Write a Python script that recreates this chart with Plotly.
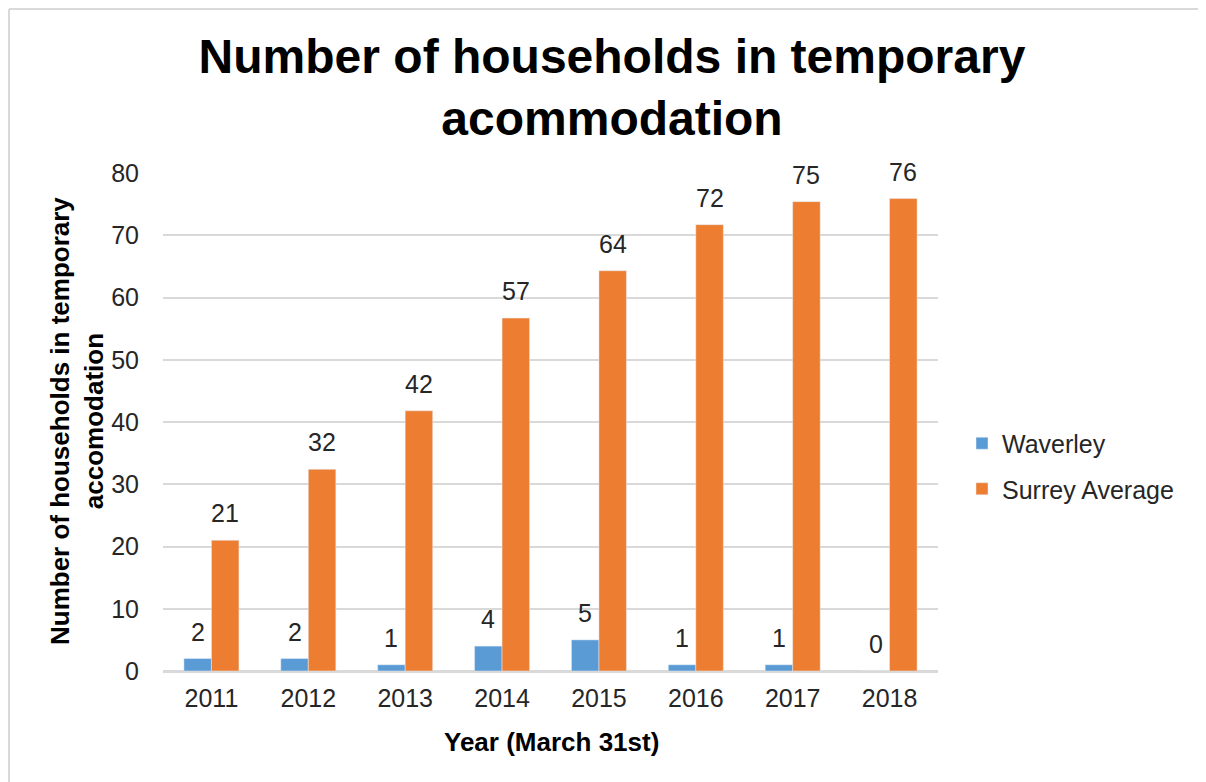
import plotly.graph_objects as go

years = ["2011", "2012", "2013", "2014", "2015", "2016", "2017", "2018"]
waverley = [2, 2, 1, 4, 5, 1, 1, 0]
surrey = [21, 32.4, 41.8, 56.7, 64.3, 71.7, 75.4, 75.9]

OFF = 8  # browser body margin
W, H = 1206 - OFF, 782 - OFF
L, R, T, B = 163 - OFF, 938 - OFF, 173 - OFF, 671 - OFF
pw, ph = R - L, B - T


def px(x):
    return (x - OFF - L) / pw


def py(y):
    return (B - (y - OFF)) / ph


font = "Liberation Sans, Arial, sans-serif"
txt = "#262626"
FS = 25

fig = go.Figure()
fig.add_trace(go.Bar(x=years, y=waverley, name="Waverley",
                     marker_color="#5B9BD5", legendgroup="a"))
fig.add_trace(go.Bar(x=years, y=surrey, name="Surrey Average",
                     marker_color="#ED7D31", legendgroup="b"))

# data labels above each bar (x given as category index)
for vals, shift in ((waverley, -13.8), (surrey, 13.8)):
    for i, v in enumerate(vals):
        fig.add_annotation(x=i, y=v, xref="x", yref="y", text=f"{v:.0f}",
                           showarrow=False, xshift=shift, yshift=27,
                           yanchor="middle", xanchor="center",
                           font=dict(size=FS, color=txt, family=font))

fig.update_layout(
    width=W, height=H,
    margin=dict(l=L, r=W - R, t=T, b=H - B, autoexpand=False),
    paper_bgcolor="white", plot_bgcolor="white",
    font=dict(family=font, color=txt, size=FS),
    barmode="group", bargap=0.432, bargroupgap=0,
    title=dict(
        text="<b>Number of households in temporary<br>acommodation</b>",
        x=(612 - OFF) / W, xanchor="center", xref="container",
        y=1 - (73 - OFF) / H, yanchor="middle", yref="container",
        font=dict(size=48, color="black", family=font),
    ),
    legend=dict(
        x=px(962), xanchor="left", y=py(466), yanchor="middle",
        font=dict(size=FS, color=txt), tracegroupgap=10,
        bgcolor="rgba(0,0,0,0)",
    ),
    xaxis=dict(type="category", range=[-0.5, len(years) - 0.5],
               showgrid=False, ticks="outside", ticklen=4,
               tickcolor="rgba(0,0,0,0)", showline=True,
               linecolor="#d9d9d9", linewidth=2,
               tickfont=dict(size=FS, color=txt), automargin=False),
    yaxis=dict(range=[0, 80], dtick=10, showgrid=True, gridcolor="#d9d9d9",
               gridwidth=2, zeroline=True, zerolinecolor="#d9d9d9", zerolinewidth=2,
               ticks="outside", ticklen=18, tickcolor="rgba(0,0,0,0)",
               tickfont=dict(size=FS, color=txt), automargin=False),
    showlegend=True,
)

fig.add_annotation(
    text="<b>Number of households in temporary<br>accomodation</b>",
    x=px(77), y=py(421), xref="paper", yref="paper", textangle=-90,
    showarrow=False, font=dict(size=26, color="black", family=font),
    xanchor="center", yanchor="middle",
)
fig.add_annotation(
    text="<b>Year (March 31st)</b>",
    x=px(551), y=py(742), xref="paper", yref="paper",
    showarrow=False, font=dict(size=26, color="black", family=font),
    xanchor="center", yanchor="middle",
)

# chart border (left and top visible)
fig.add_shape(type="line", xref="paper", yref="paper",
              x0=px(9), x1=px(9), y0=py(9), y1=py(800),
              line=dict(color="#d9d9d9", width=2))
fig.add_shape(type="line", xref="paper", yref="paper",
              x0=px(9), x1=px(1198), y0=py(9), y1=py(9),
              line=dict(color="#d9d9d9", width=2))

fig.write_html("out.html")
